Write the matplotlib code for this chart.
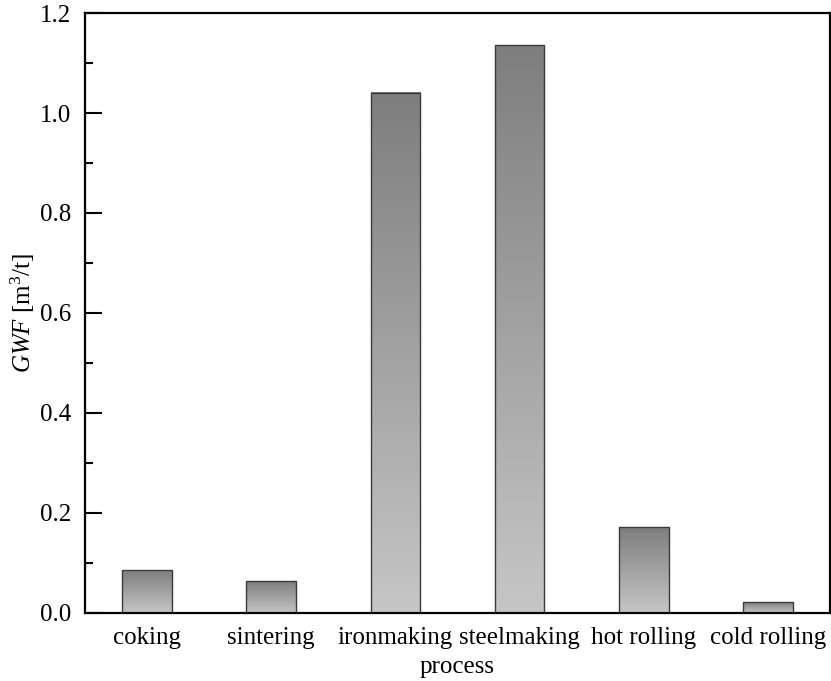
import matplotlib
matplotlib.use("Agg")
import matplotlib.pyplot as plt
import numpy as np
from matplotlib.colors import LinearSegmentedColormap
from matplotlib.ticker import MultipleLocator, FormatStrFormatter

processes = ["coking", "sintering", "ironmaking", "steelmaking", "hot rolling", "cold rolling"]
gwf = [0.086, 0.064, 1.041, 1.136, 0.172, 0.021]

plt.rcParams["font.family"] = ["Liberation Serif", "DejaVu Serif"]
plt.rcParams["mathtext.fontset"] = "custom"
plt.rcParams["mathtext.it"] = "Liberation Serif:italic"
plt.rcParams["mathtext.rm"] = "Liberation Serif"

fig = plt.figure(figsize=(8.31, 6.81), dpi=100)
ax = fig.add_axes([0.1023, 0.0999, 0.8965, 0.8810])

x = np.arange(len(processes))
bars = ax.bar(x, gwf, width=0.4, color="none", edgecolor="#3a3a3a", linewidth=1.0, zorder=3)

# vertical grey gradient inside each bar: dark on top, light at bottom
grey = LinearSegmentedColormap.from_list("grey", ["#c6c6c6", "#7e7e7e"])
grad = np.linspace(0, 1, 256).reshape(-1, 1)
for b in bars:
    x0, w, h = b.get_x(), b.get_width(), b.get_height()
    ax.imshow(grad, cmap=grey, origin="lower", aspect="auto",
              extent=[x0, x0 + w, 0, h], zorder=2)

ax.set_xlim(-0.5, 5.5)
ax.set_ylim(0, 1.2)
ax.set_xticks(x)
ax.set_xticklabels(processes)
ax.yaxis.set_major_locator(MultipleLocator(0.2))
ax.yaxis.set_minor_locator(MultipleLocator(0.1))
ax.yaxis.set_major_formatter(FormatStrFormatter("%.1f"))
ax.tick_params(axis="x", length=0, labelsize=18, pad=10)
ax.tick_params(axis="y", which="major", direction="in", length=12, width=1.5,
               labelsize=18, pad=10)
ax.tick_params(axis="y", which="minor", direction="in", length=6, width=1.5)
for s in ax.spines.values():
    s.set_linewidth(1.6)

ax.set_xlabel("process", fontsize=18, labelpad=5)
ax.set_ylabel(r"$GWF$ [m$^3$/t]", fontsize=18, labelpad=2)

fig.savefig("out.png", dpi=100)
